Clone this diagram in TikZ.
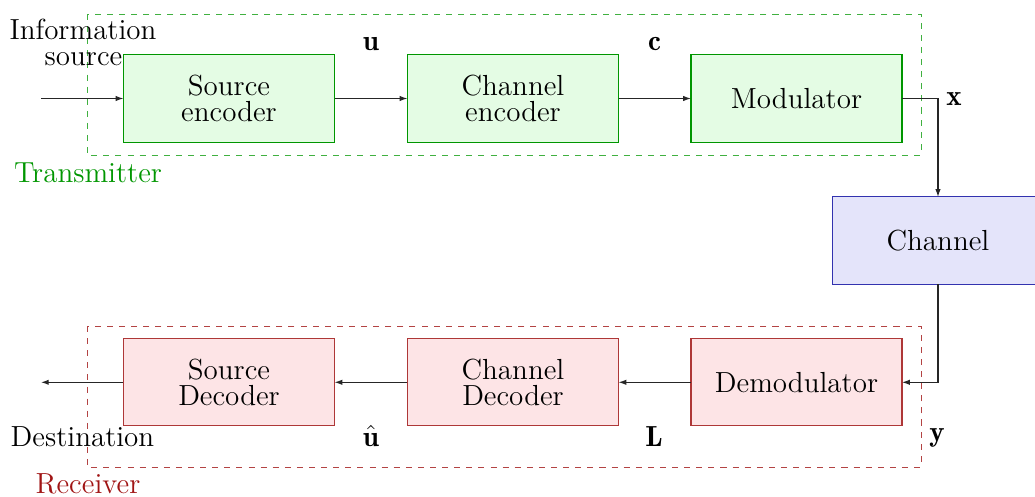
\documentclass[tikz,border=0pt]{standalone}
\usepackage{fontspec}
\usetikzlibrary{arrows.meta}

\definecolor{txgreen}{RGB}{0,150,0}
\definecolor{txfill}{RGB}{228,252,228}
\definecolor{rxred}{RGB}{160,20,20}
\definecolor{rxfill}{RGB}{253,228,230}
\definecolor{chblue}{RGB}{50,50,175}
\definecolor{chfill}{RGB}{228,228,250}

\tikzset{
  block/.style={draw, line width=0.45pt, inner sep=0pt, outer sep=0pt,
    minimum width=87.2pt, minimum height=36pt, align=center,
    font={\fontsize{12}{11}\selectfont}},
  txblock/.style={block, draw=txgreen, fill=txfill},
  rxblock/.style={block, draw=rxred!85, fill=rxfill},
  chblock/.style={block, draw=chblue, fill=chfill},
  link/.style={line width=0.45pt, black!85, -{Latex[length=3.2pt,width=2.2pt]}},
  region/.style={line width=0.4pt, dash pattern=on 2.5pt off 2.5pt},
  lbl/.style={inner sep=0pt, anchor=base, font={\fontsize{12}{11}\selectfont}},
}

\begin{document}
\begin{tikzpicture}[x=0.4132pt, y=-0.4132pt]
  \useasboundingbox (0,0) rectangle (1035,497);
  \clip (0,0) rectangle (1035,497);

  % transmitter and receiver regions
  \draw[region, draw=txgreen!75] (87,14) rectangle (921,155);
  \draw[region, draw=rxred!80] (87,326) rectangle (921,467);

  % transmitter chain
  \node[txblock] (srcenc) at (229,98.5) {Source\\encoder};
  \node[txblock] (chenc)  at (513,98.5) {Channel\\encoder};
  \node[txblock] (mod)    at (796.5,98.5) {Modulator};

  % channel
  \node[chblock] (chan) at (938,240.5) {Channel};

  % receiver chain
  \node[rxblock] (demod)  at (796.5,382.3) {Demodulator};
  \node[rxblock] (chdec)  at (513,382.3) {Channel\\Decoder};
  \node[rxblock] (srcdec) at (229,382.3) {Source\\Decoder};

  % free ends of the chain
  \coordinate (in)  at (41,98.5);
  \coordinate (out) at (41,382.3);

  % connectors
  \draw[link] (in) -- (srcenc.west);
  \draw[link] (srcenc.east) -- (chenc.west);
  \draw[link] (chenc.east) -- (mod.west);
  \draw[link] (mod.east) -| (chan.north);
  \draw[link] (chan.south) |- (demod.east);
  \draw[link] (demod.west) -- (chdec.east);
  \draw[link] (chdec.west) -- (srcdec.east);
  \draw[link] (srcdec.west) -- (out);

  % signal labels
  \node[lbl] (lu)  at (371,50)    {$\mathbf{u}$};
  \node[lbl] (lc)  at (654.5,50)  {$\mathbf{c}$};
  \node[lbl] (lx)  at (954,105)   {$\mathbf{x}$};
  \node[lbl] (luh) at (371,446.5) {$\hat{\mathbf{u}}$};
  \node[lbl] (lL)  at (654,446.5) {$\mathbf{L}$};
  \node[lbl] (ly)  at (937,441)   {$\mathbf{y}$};

  % end points and region names
  \node[lbl] (srcname) at (83,40) {Information};
  \node[lbl] (srcname2) at (83.5,66) {source};
  \node[lbl] (dest) at (82.5,446.5) {Destination};
  \node[lbl, text=txgreen] (txname) at (88,182) {Transmitter};
  \node[lbl, text=rxred] (rxname) at (88,493.5) {Receiver};
\end{tikzpicture}
\end{document}
